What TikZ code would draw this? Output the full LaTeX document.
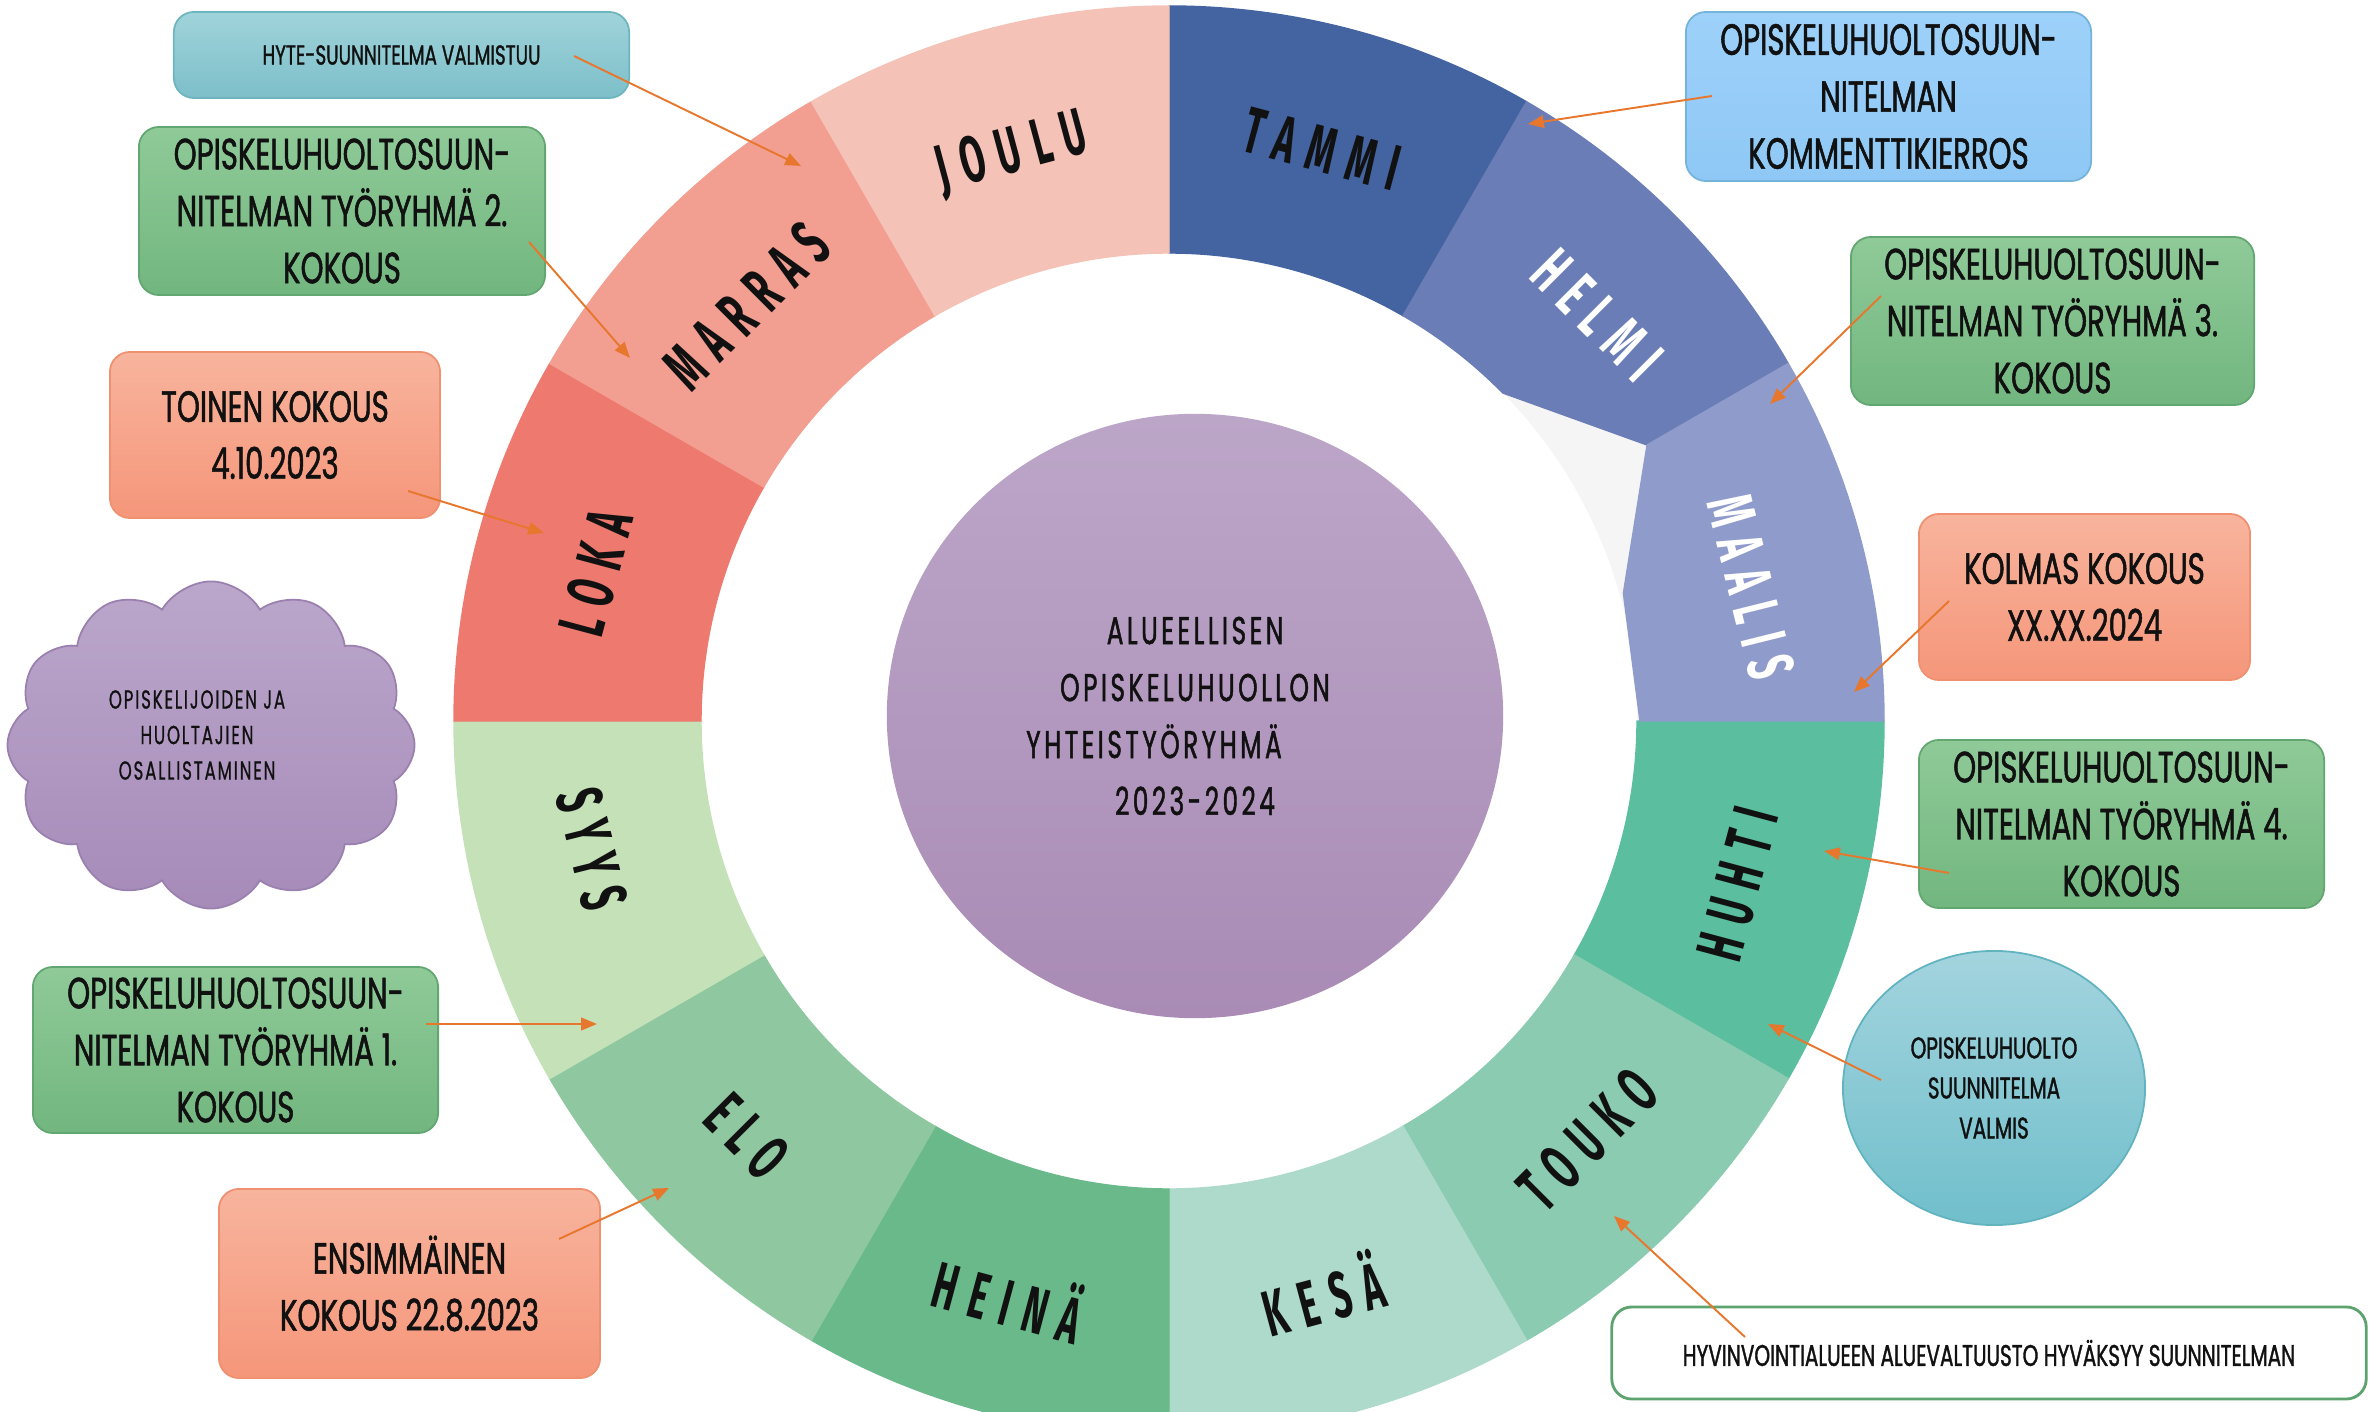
\documentclass[tikz,border=0pt]{standalone}
\usepackage{fontspec}
\usetikzlibrary{shapes.geometric,shapes.symbols,arrows.meta}
\newfontfamily\boxfont{Poppins}[FakeStretch=0.67,FakeBold=1.2]
\newfontfamily\midfont{Poppins}[FakeStretch=0.64,FakeBold=1.2,LetterSpace=9]
\newfontfamily\cloudfont{Poppins}[FakeStretch=0.64,FakeBold=0.8,LetterSpace=7]
\newfontfamily\monthfont{Fira Sans}[FakeStretch=0.55,LetterSpace=20]
\definecolor{cTammi}{HTML}{4364A0}
\definecolor{cHelmi}{HTML}{6A7DB6}
\definecolor{cMaalis}{HTML}{8F9BCB}
\definecolor{cHuhti}{HTML}{5BBE9E}
\definecolor{cTouko}{HTML}{8ACBB2}
\definecolor{cKesa}{HTML}{ADDACB}
\definecolor{cHeina}{HTML}{6AB98A}
\definecolor{cElo}{HTML}{8FC8A0}
\definecolor{cSyys}{HTML}{C4E1B8}
\definecolor{cLoka}{HTML}{EE796F}
\definecolor{cMarras}{HTML}{F29F91}
\definecolor{cJoulu}{HTML}{F5C2B7}
\definecolor{ringGray}{HTML}{F5F5F5}
\definecolor{gTop}{HTML}{8FCA98}
\definecolor{gBot}{HTML}{72B67F}
\definecolor{gBorder}{HTML}{62A771}
\definecolor{sTop}{HTML}{F8B49D}
\definecolor{sBot}{HTML}{F5967A}
\definecolor{sBorder}{HTML}{EF9070}
\definecolor{hTop}{HTML}{A0D3DA}
\definecolor{hBot}{HTML}{7DBFC9}
\definecolor{hBorder}{HTML}{6FB5C0}
\definecolor{bTop}{HTML}{9DD1FA}
\definecolor{bBot}{HTML}{8FC8F5}
\definecolor{bBorder}{HTML}{74B3DA}
\definecolor{vTop}{HTML}{A3D4DE}
\definecolor{vBot}{HTML}{70BFCB}
\definecolor{vBorder}{HTML}{62B3C0}
\definecolor{clTop}{HTML}{BBA7CB}
\definecolor{clBot}{HTML}{A68BB9}
\definecolor{clBorder}{HTML}{9A80AE}
\definecolor{mTop}{HTML}{BCA6C8}
\definecolor{mBot}{HTML}{A98BB5}
\definecolor{hyvBorder}{HTML}{5DA36E}
\definecolor{arrowc}{HTML}{E8772E}
\definecolor{txt}{HTML}{111111}
\begin{document}
\begin{tikzpicture}[x=0.01cm,y=0.01cm,
  boxbase/.style={rounded corners=2mm, line width=0.5pt, align=center, inner sep=0pt, text=txt,
    font=\boxfont\fontsize{12.4}{16.2}\selectfont},
  gbox/.style={boxbase, draw=gBorder, top color=gTop, bottom color=gBot},
  sbox/.style={boxbase, draw=sBorder, top color=sTop, bottom color=sBot},
  month/.style={font=\monthfont\bfseries\fontsize{18.6}{20}\selectfont, text=txt, inner sep=0pt},
  monthw/.style={month, text=white},
  arr/.style={draw=arrowc, line width=0.55pt, -{Triangle[length=4.5pt,width=3.6pt]}}
]
\useasboundingbox (0,0) rectangle (2369,1411);

% ---- ring ----
\begin{scope}[shift={(1169,690)}]
  \fill[ringGray] (50:715) arc[start angle=50,end angle=0,radius=715] -- (0:468)
     arc[start angle=0,end angle=50,radius=468] -- cycle;
  \foreach \s/\c in {90/cTammi,0/cHuhti,-30/cTouko,-60/cKesa,-90/cHeina,-120/cElo,-150/cSyys,180/cLoka,150/cMarras,120/cJoulu}
    \filldraw[\c, line width=0.4pt] (\s:715) arc[start angle=\s, delta angle=-30, radius=715]
      -- ({\s-30}:468) arc[start angle={\s-30}, delta angle=30, radius=468] -- cycle;
  \filldraw[cHelmi, line width=0.4pt] (60:715) arc[start angle=60,end angle=30,radius=715]
      -- (30:552) -- (44.5:468) arc[start angle=44.5,end angle=60,radius=468] -- cycle;
  \filldraw[cMaalis, line width=0.4pt] (30:715) arc[start angle=30,end angle=0,radius=715]
      -- (0:471) -- (15.7:472) -- (30:552) -- cycle;

  \node[month,  rotate=-15] (mTammi)  at (75:592)    {TAMMI};
  \node[monthw, rotate=-45] (mHelmi)  at (43.5:590)  {HELMI};
  \node[monthw, rotate=-76] (mMaalis) at (13:597)    {MAALIS};
  \node[month,  rotate=75]  (mHuhti)  at (-16:592)   {HUHTI};
  \node[month,  rotate=45]  (mTouko)  at (-45:592)   {TOUKO};
  \node[month,  rotate=15]  (mKesa)   at (-75:592)   {KESÄ};
  \node[month,  rotate=-15] (mHeina)  at (-105.5:597) {HEINÄ};
  \node[month,  rotate=-45] (mElo)    at (-135.5:592) {ELO};
  \node[month,  rotate=-76] (mSyys)   at (-167.5:591) {SYYS};
  \node[month,  rotate=75]  (mLoka)   at (165.5:592)  {LOKA};
  \node[month,  rotate=45]  (mMarras) at (135.5:592)  {MARRAS};
  \node[month,  rotate=15]  (mJoulu)  at (105.5:588)  {JOULU};
\end{scope}

% ---- centre ----
\node[ellipse, minimum width=6.16cm, minimum height=6.04cm, inner sep=0pt,
      top color=mTop, bottom color=mBot, align=center, text=txt,
      font=\midfont\fontsize{11}{16.2}\selectfont] (centre) at (1195,695)
  {ALUEELLISEN\\OPISKELUHUOLLON\\YHTEISTYÖRYHMÄ\rule{0.82cm}{0pt}\\2023-2024};

% ---- boxes ----
\node[boxbase, draw=hBorder, top color=hTop, bottom color=hBot, minimum width=4.55cm, minimum height=0.86cm,
      font=\boxfont\fontsize{7.8}{10}\selectfont] (hyte) at (401.5,1356) {HYTE-SUUNNITELMA VALMISTUU};
\node[gbox, minimum width=4.06cm, minimum height=1.68cm] (tr2) at (342,1200)
  {OPISKELUHUOLTOSUUN-\\NITELMAN TYÖRYHMÄ 2.\\KOKOUS};
\node[sbox, minimum width=3.30cm, minimum height=1.66cm] (toinen) at (275,976)
  {TOINEN KOKOUS\\4.10.2023};
\node[cloud, cloud puffs=12, cloud puff arc=120, aspect=1.25, draw=clBorder, line width=0.5pt,
      top color=clTop, bottom color=clBot, minimum width=4.07cm, minimum height=3.27cm,
      inner sep=0pt] (cloud) at (211,666) {};
\node[align=center, text=txt, inner sep=0pt, font=\cloudfont\fontsize{7.4}{10.1}\selectfont] (cloudtxt) at (197,676)
  {OPISKELIJOIDEN JA\\HUOLTAJIEN\\OSALLISTAMINEN};
\node[gbox, minimum width=4.05cm, minimum height=1.66cm] (tr1) at (235.5,361)
  {OPISKELUHUOLTOSUUN-\\NITELMAN TYÖRYHMÄ 1.\\KOKOUS};
\node[sbox, minimum width=3.81cm, minimum height=1.89cm] (ensim) at (409.5,127.5)
  {ENSIMMÄINEN\\KOKOUS 22.8.2023};
\node[boxbase, draw=bBorder, top color=bTop, bottom color=bBot, minimum width=4.05cm, minimum height=1.69cm] (komm) at (1888.5,1314.5)
  {OPISKELUHUOLTOSUUN-\\NITELMAN\\KOMMENTTIKIERROS};
\node[gbox, minimum width=4.03cm, minimum height=1.68cm] (tr3) at (2052.5,1090)
  {OPISKELUHUOLTOSUUN-\\NITELMAN TYÖRYHMÄ 3.\\KOKOUS};
\node[sbox, minimum width=3.31cm, minimum height=1.66cm] (kolmas) at (2084.5,814)
  {KOLMAS KOKOUS\\XX.XX.2024};
\node[gbox, minimum width=4.05cm, minimum height=1.68cm] (tr4) at (2121.5,587)
  {OPISKELUHUOLTOSUUN-\\NITELMAN TYÖRYHMÄ 4.\\KOKOUS};
\node[ellipse, minimum width=3.02cm, minimum height=2.74cm, inner sep=0pt, draw=vBorder, line width=0.5pt,
      top color=vTop, bottom color=vBot, align=center, text=txt,
      font=\boxfont\fontsize{8.5}{11.4}\selectfont] (valmis) at (1994,323)
  {OPISKELUHUOLTO\\SUUNNITELMA\\VALMIS};
\node[boxbase, draw=hyvBorder, line width=0.8pt, fill=white, minimum width=7.54cm, minimum height=0.92cm,
      font=\boxfont\fontsize{8.5}{10}\selectfont] (hyv) at (1989,58)
  {HYVINVOINTIALUEEN ALUEVALTUUSTO HYVÄKSYY SUUNNITELMAN};

% ---- connector end points ----
\coordinate (hyteS) at (574,1355);   \coordinate (hyteE) at (801,1245);
\coordinate (tr2S) at (529,1169);    \coordinate (tr2E) at (630,1053);
\coordinate (toinenS) at (408,920);  \coordinate (toinenE) at (544,878);
\coordinate (tr1S) at (426,387);     \coordinate (tr1E) at (597,387);
\coordinate (ensimS) at (559,172);   \coordinate (ensimE) at (669,223);
\coordinate (kommS) at (1712,1315);  \coordinate (kommE) at (1528,1287);
\coordinate (tr3S) at (1881,1115);   \coordinate (tr3E) at (1770,1007);
\coordinate (kolmasS) at (1949,810); \coordinate (kolmasE) at (1854,719);
\coordinate (tr4S) at (1949,538);    \coordinate (tr4E) at (1824,560);
\coordinate (valmisS) at (1881,331); \coordinate (valmisE) at (1768,387);
\coordinate (hyvS) at (1745,74);     \coordinate (hyvE) at (1614,195);

\foreach \n in {hyte,tr2,toinen,tr1,ensim,komm,tr3,kolmas,tr4,valmis,hyv}
  \draw[arr] (\n S) -- (\n E);
\end{tikzpicture}
\end{document}
